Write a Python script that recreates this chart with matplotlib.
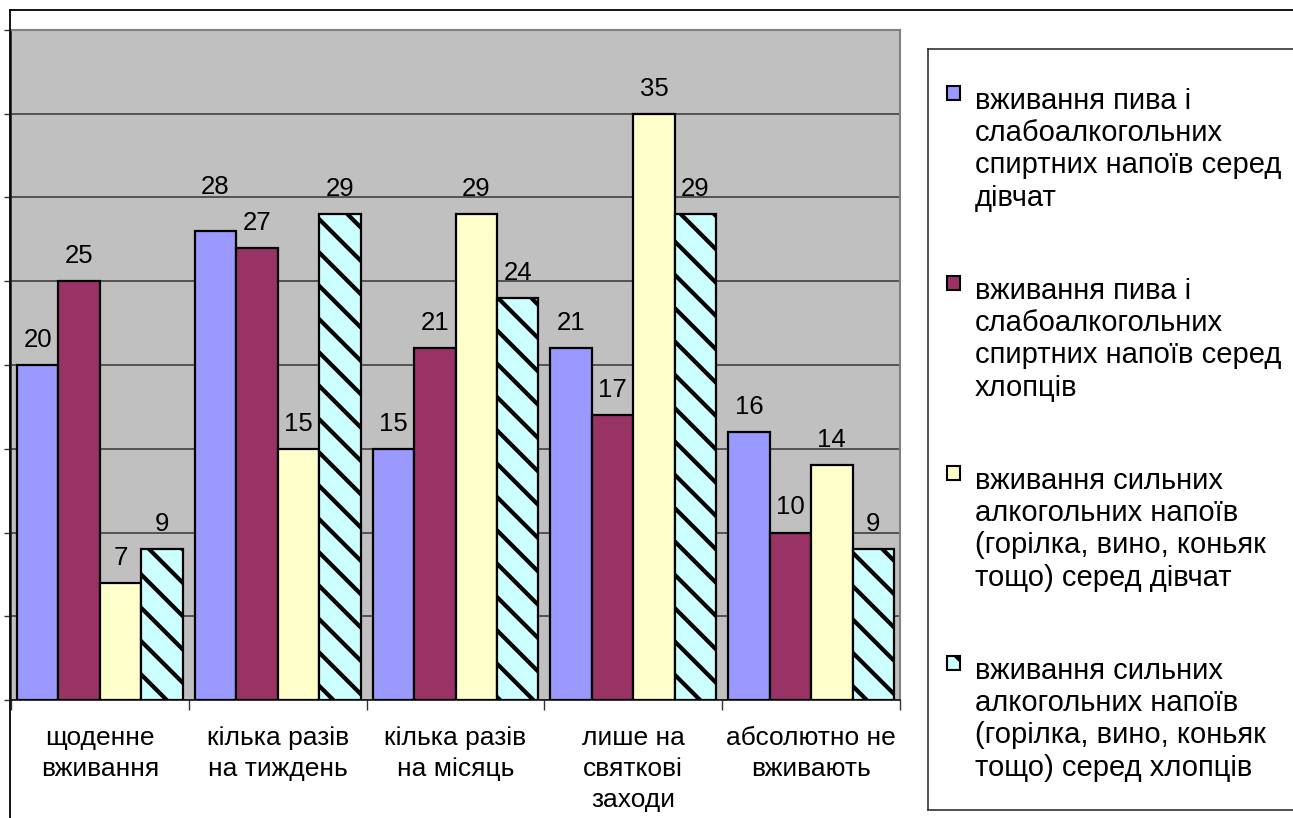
import matplotlib
matplotlib.use("Agg")
import matplotlib.pyplot as plt
from matplotlib.patches import Rectangle
from matplotlib.lines import Line2D
import numpy as np

plt.rcParams['font.family'] = ['Liberation Sans', 'DejaVu Sans']
plt.rcParams['hatch.linewidth'] = 3.0
plt.rcParams['hatch.color'] = '#2a2a2a'

# ---- data ----
categories = ["щоденне\nвживання", "кілька разів\nна тиждень", "кілька разів\nна місяць",
              "лише на\nсвяткові\nзаходи", "абсолютно не\nвживають"]
series_names = [
    "вживання пива і\nслабоалкогольних\nспиртних напоїв серед\nдівчат",
    "вживання пива і\nслабоалкогольних\nспиртних напоїв серед\nхлопців",
    "вживання сильних\nалкогольних напоїв\n(горілка, вино, коньяк\nтощо) серед дівчат",
    "вживання сильних\nалкогольних напоїв\n(горілка, вино, коньяк\nтощо) серед хлопців",
]
beer_girls = [20, 28, 15, 21, 16]
beer_boys = [25, 27, 21, 17, 10]
strong_girls = [7, 15, 29, 35, 14]
strong_boys = [9, 29, 24, 29, 9]
series_values = [beer_girls, beer_boys, strong_girls, strong_boys]

# ---- styles ----
face_colors = ["#9999FF", "#993366", "#FFFFCC", "#CCFFFF"]
hatches = [None, None, None, "\\"]
label_nudge = {(0, 1): 1.15}   # (series, category) -> extra lift of the value label

W, H = 1293, 818
fig = plt.figure(figsize=(W / 100, H / 100), dpi=100)
fig.patch.set_facecolor("white")

# plot area in pixel coordinates
px_l, px_r, px_t, px_b = 11, 900, 30, 700
ax = fig.add_axes([px_l / W, 1 - px_b / H, (px_r - px_l) / W, (px_b - px_t) / H])
ax.set_facecolor("#C0C0C0")
ax.set_xlim(-0.5, 4.5)
ax.set_ylim(0, 40)

ax.set_yticks(np.arange(0, 41, 5))
ax.yaxis.grid(True, color="#4a4a4a", linewidth=1.3)
ax.set_axisbelow(True)
ax.tick_params(axis="y", which="both", labelleft=False, direction="out",
               length=5, width=1.0, color="#333333")

for side in ["top", "right"]:
    ax.spines[side].set_color("#808080")
    ax.spines[side].set_linewidth(1.5)
ax.spines["left"].set_color("#222222")
ax.spines["left"].set_linewidth(1.2)
ax.spines["bottom"].set_color("#111111")
ax.spines["bottom"].set_linewidth(1.2)

x = np.arange(len(categories))
bw = 0.233
for i, vals in enumerate(series_values):
    offs = x + (i - 1.5) * bw
    ax.bar(offs, vals, width=bw, color=face_colors[i], edgecolor="black",
           linewidth=1.6, hatch=hatches[i], zorder=3)
    for j, v in enumerate(vals):
        lift = 1.5 + label_nudge.get((i, j), 0)
        ax.text(offs[j], v + lift, str(v), ha="center", va="center",
                fontsize=18.5, color="black", zorder=4)

# category separators on the x axis and category labels below
ax.set_xticks(np.arange(-0.5, 5.0, 1.0))
ax.set_xticklabels([])
ax.tick_params(axis="x", direction="out", length=7, width=1.0, color="#333333")
for j, c in enumerate(categories):
    ax.text(x[j], -1.58, c, ha="center", va="top", fontsize=19,
            linespacing=1.36, transform=ax.transData, clip_on=False)

# outer chart frame (top and left edges)
fig.add_artist(Line2D([10 / W, 1.0], [1 - 10 / H, 1 - 10 / H], color="black", linewidth=1.3))
fig.add_artist(Line2D([10 / W, 10 / W], [1 - 10 / H, 0.0], color="black", linewidth=1.3))

# legend box
lg_l, lg_t, lg_b = 928, 49, 810
lax = fig.add_axes([lg_l / W, 1 - lg_b / H, (W + 5 - lg_l) / W, (lg_b - lg_t) / H])
lax.set_xlim(lg_l, W + 5)
lax.set_ylim(lg_b, lg_t)
lax.set_xticks([])
lax.set_yticks([])
for s in lax.spines.values():
    s.set_color("#333333")
    s.set_linewidth(1.2)
lax.spines["right"].set_visible(False)

first_line_y = [101, 291, 481, 671]
for i, name in enumerate(series_names):
    y0 = first_line_y[i]
    lax.add_patch(Rectangle((947, y0 - 15), 13, 14, facecolor=face_colors[i],
                            edgecolor="black", linewidth=1.5, hatch=hatches[i]))
    lax.text(975, y0 - 14, name, ha="left", va="top", fontsize=21,
             linespacing=1.19, transform=lax.transData)

fig.savefig("out.png", dpi=100, facecolor="white")
